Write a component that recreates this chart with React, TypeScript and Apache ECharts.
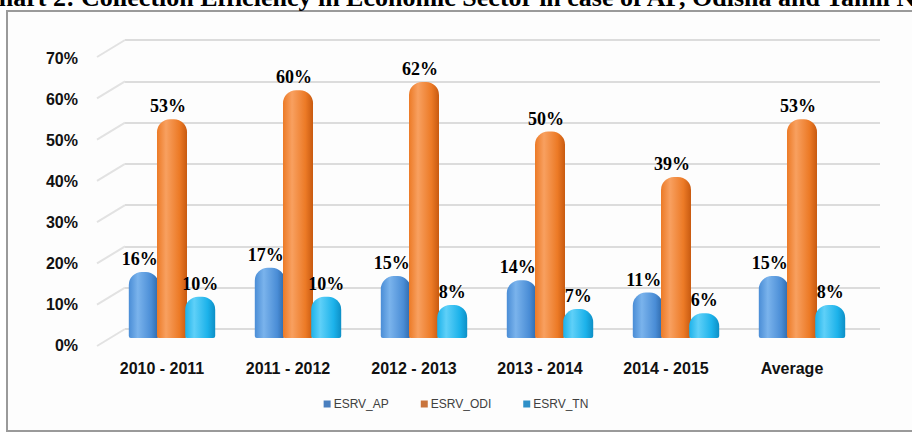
import React, { useEffect, useRef } from "react";
import * as echarts from "echarts";

const categories = ["2010 - 2011", "2011 - 2012", "2012 - 2013", "2013 - 2014", "2014 - 2015", "Average"];
const seriesNames = ["ESRV_AP", "ESRV_ODI", "ESRV_TN"];
const apValues = [16, 17, 15, 14, 11, 15];
const odiValues = [53, 60, 62, 50, 39, 53];
const tnValues = [10, 10, 8, 7, 6, 8];
const gridTicks = [0, 10, 20, 30, 40, 50, 60, 70];
const titleText = "Chart 2: Collection Efficiency in Economic Sector in case of AP, Odisha and Tamil Nadu";

const grad = (dark: string, light: string, mid: string) =>
  new echarts.graphic.LinearGradient(0, 0, 1, 0, [
    { offset: 0, color: mid },
    { offset: 0.3, color: light },
    { offset: 0.75, color: mid },
    { offset: 1, color: dark },
  ]);

export default function App() {
  const ref = useRef<HTMLDivElement>(null);
  useEffect(() => {
    document.body.style.margin = "0";
    const chart = echarts.init(ref.current!, null, { renderer: "svg" });
    const labelFont = {
      fontFamily: "'Liberation Serif', 'Times New Roman', serif",
      fontWeight: "bold" as const,
      fontSize: 18,
      color: "#000",
    };
    const barSeries = (name: string, data: number[], color: any, offset: number[]) => ({
      name,
      type: "bar",
      xAxisIndex: 0,
      yAxisIndex: 0,
      data,
      barWidth: 30,
      barGap: "-6%",
      itemStyle: { color, borderRadius: [13, 13, 2, 2] },
      label: {
        show: true,
        position: "top",
        distance: 4,
        offset,
        formatter: "{c}%",
        ...labelFont,
      },
    });
    chart.setOption({
      animation: false,
      backgroundColor: "#ffffff",
      graphic: [
        {
          type: "rect",
          shape: { x: 7, y: 11, width: 930, height: 420 },
          style: { fill: "#fdfdfd", stroke: "#9a9a9a", lineWidth: 2 },
          z: -10,
        },
        {
          type: "text",
          x: -20,
          y: 10,
          style: {
            text: titleText,
            font: "bold 26px 'Liberation Serif', 'Times New Roman', serif",
            fill: "#000",
            verticalAlign: "bottom",
            align: "left",
          },
        },
      ],
      grid: [
        { left: 109, right: 47, top: 49, bottom: 96 },
        { left: 125, right: 32, top: 40, bottom: 105 },
        { left: 99, right: 57, top: 58, bottom: 89 },
      ],
      xAxis: [
        { type: "category", gridIndex: 0, data: categories, show: false },
        { type: "value", gridIndex: 1, min: 0, max: 1, show: false },
        {
          type: "category",
          gridIndex: 2,
          data: categories,
          axisLine: { show: false },
          axisTick: { show: false },
          axisLabel: {
            margin: 15,
            fontFamily: "'Liberation Sans', Arial, sans-serif",
            fontWeight: "bold",
            fontSize: 16,
            color: "#111",
          },
        },
      ],
      yAxis: [
        { type: "value", gridIndex: 0, min: 0, max: 70, interval: 10, show: false },
        {
          type: "value",
          gridIndex: 1,
          min: 0,
          max: 70,
          interval: 10,
          axisLine: { show: false },
          axisTick: { show: false },
          axisLabel: { show: false },
          splitLine: { show: true, lineStyle: { color: "#dcdcdc", width: 2 } },
        },
        {
          type: "value",
          gridIndex: 2,
          min: 0,
          max: 70,
          interval: 10,
          axisLine: { show: false },
          axisTick: { show: false },
          splitLine: { show: false },
          axisLabel: {
            margin: 21,
            formatter: "{value}%",
            fontFamily: "'Liberation Sans', Arial, sans-serif",
            fontWeight: "bold",
            fontSize: 16,
            color: "#111",
          },
        },
      ],
      legend: {
        bottom: 19,
        left: "center",
        itemWidth: 7,
        itemHeight: 7,
        itemGap: 32,
        icon: "rect",
        textStyle: {
          fontFamily: "'Liberation Sans Narrow', 'Liberation Sans', Arial, sans-serif",
          fontSize: 12,
          color: "#404040",
          padding: [0, 0, 0, -2],
        },
        data: [
          { name: seriesNames[0], itemStyle: { color: "#4a7fbf" } },
          { name: seriesNames[1], itemStyle: { color: "#c9743c" } },
          { name: seriesNames[2], itemStyle: { color: "#2f90c8" } },
        ],
      },
      series: [
        {
          type: "custom",
          xAxisIndex: 1,
          yAxisIndex: 1,
          silent: true,
          data: gridTicks.map((t) => [0, t]),
          renderItem: (params: any, api: any) => {
            const p = api.coord([0, api.value(1)]);
            return {
              type: "line",
              shape: { x1: p[0] - 28, y1: p[1] + 17, x2: p[0], y2: p[1] },
              style: { stroke: "#e2e2e2", lineWidth: 2 },
            };
          },
          z: 0,
        },
        barSeries(seriesNames[0], apValues, grad("#2d67a8", "#7ab3ec", "#4a8dd6"), [-4, 0]),
        barSeries(seriesNames[1], odiValues, grad("#c85a10", "#f8a060", "#ec7a26"), [-4, 0]),
        barSeries(seriesNames[2], tnValues, grad("#0d8fc6", "#5fd0f8", "#1cb2ea"), [0, 0]),
      ],
    });
    return () => chart.dispose();
  }, []);
  return <div ref={ref} style={{ width: 912, height: 434 }} />;
}
